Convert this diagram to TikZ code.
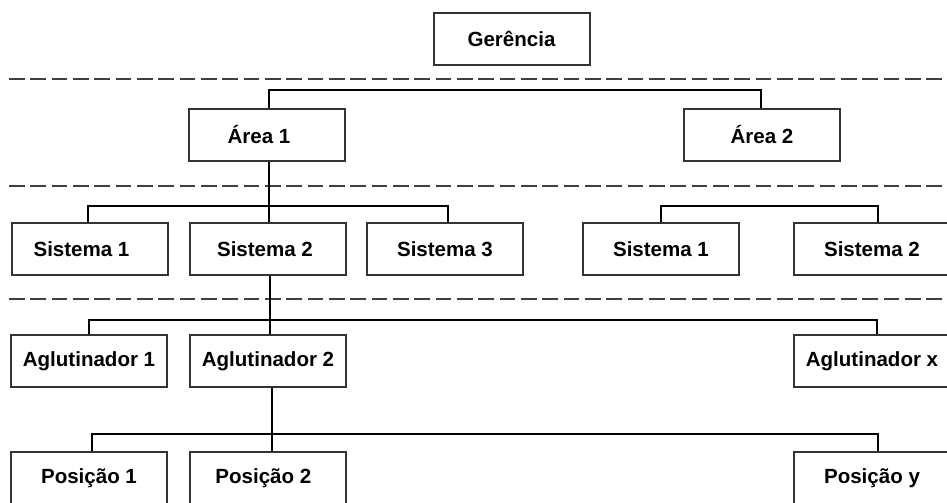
\documentclass[tikz,border=0pt]{standalone}
\usepackage{fontspec}
\setmainfont{Liberation Sans}
\usetikzlibrary{calc}
\begin{document}
\begin{tikzpicture}[x=0.75pt,y=-0.75pt,
  box/.style={draw=black!80, line width=1.5pt, rectangle, minimum width=117pt, minimum height=39.5pt,
    inner sep=0pt, fill=white, font=\fontsize{15.4}{18}\selectfont\bfseries},
  conn/.style={line width=1.1pt, draw=black},
  sep/.style={dash pattern=on 11.8pt off 4.2pt, line width=1.5pt, draw=black!75}]
\clip (0,0) rectangle (947,503);
\fill[white] (0,0) rectangle (947,503);
% separators
\draw[sep] (9,79) -- (960,79);
\draw[sep] (9,186) -- (960,186);
\draw[sep] (9,299) -- (960,299);
% bus levels
\coordinate (b0) at (0,90);
\coordinate (b1) at (0,206);
\coordinate (b2) at (0,320);
\coordinate (b3) at (0,434);
% nodes
\node[box] (ger) at (511.5,39) {Gerência};
\node[box] (a1) at (267,135) {Área 1\kern 12pt};
\node[box] (a2) at (762,135) {Área 2};
\node[box] (s1) at (89.5,249) {Sistema 1\kern 12pt};
\node[box] (s2) at (268,249) {Sistema 2\kern 4.5pt};
\node[box] (s3) at (445,249) {Sistema 3};
\node[box] (t1) at (661,249) {Sistema 1};
\node[box] (t2) at (872,249) {Sistema 2};
\node[box] (g1) at (89,361) {Aglutinador 1};
\node[box] (g2) at (268,361) {Aglutinador 2};
\node[box] (gx) at (872,361) {Aglutinador x};
\node[box] (p1) at (89,478) {Posição 1};
\node[box] (p2) at (268,478) {Posição 2\kern 7pt};
\node[box] (py) at (872,478) {Posição y};
% connectors
\draw[conn] ($(ger.south)+(3.5,0)$) -- ($(ger.south)+(3.5,0)$ |- b0);
\draw[conn] ($(a1.north)+(2,0)$) |- ($(b0 -| a2.north)+(-1,0)$) -- ($(a2.north)+(-1,0)$);
\draw[conn] ($(a1.south)+(2,0)$) -- ($(s2.north)+(1,0)$);
\draw[conn] ($(s1.north)+(-1.5,0)$) |- ($(b1 -| s3.north)+(3,0)$) -- ($(s3.north)+(3,0)$);
\draw[conn] ($(a2.south)+(-1,0)$) -- ($(a2.south)+(-1,0)$ |- b1);
\draw[conn] (t1.north) |- ($(b1 -| t2.north)+(6,0)$) -- ($(t2.north)+(6,0)$);
\draw[conn] ($(s2.south)+(2,0)$) -- ($(g2.north)+(2,0)$);
\draw[conn] (g1.north) |- ($(b2 -| gx.north)+(5,0)$) -- ($(gx.north)+(5,0)$);
\draw[conn] ($(g2.south)+(4,0)$) -- ($(p2.north)+(4,0)$);
\draw[conn] ($(p1.north)+(3,0)$) |- ($(b3 -| py.north)+(6,0)$) -- ($(py.north)+(6,0)$);
\end{tikzpicture}
\end{document}
